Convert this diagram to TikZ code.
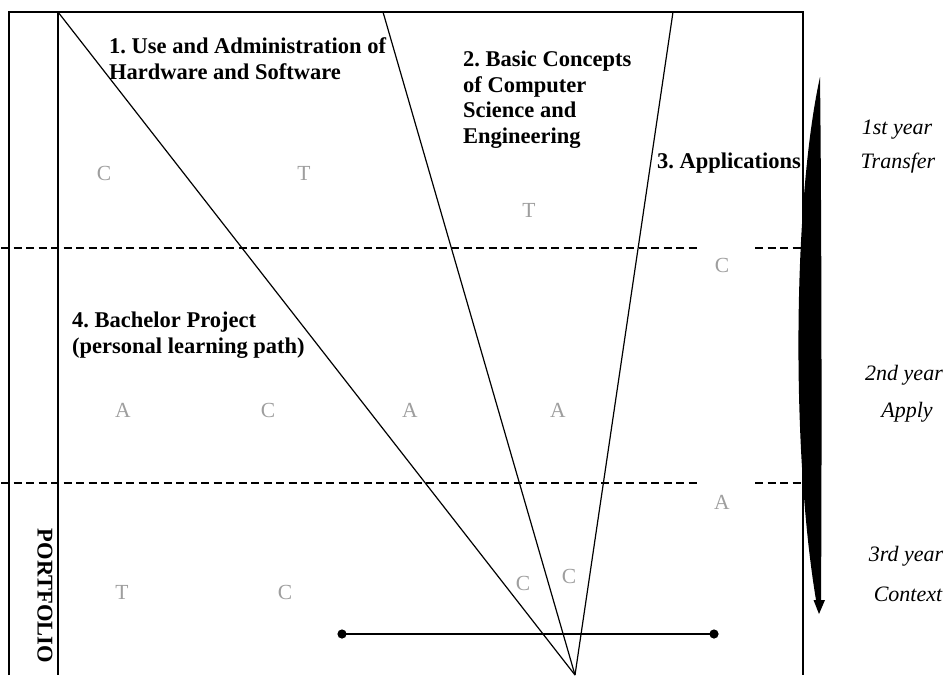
\documentclass[tikz,border=0pt]{standalone}
\usepackage{fontspec}
\setmainfont{Liberation Serif}
\frenchspacing
\begin{document}
\begin{tikzpicture}[x=1pt,y=-1pt,
  frame/.style={line width=1.4pt},
  ray/.style={line width=1.2pt},
  yearsep/.style={line width=1.3pt,dash pattern=on 8pt off 4.5pt},
  area/.style={font=\fontsize{22.5}{25.5}\selectfont\bfseries,align=left,anchor=base west,inner sep=0pt},
  letter/.style={font=\fontsize{21.5}{24}\selectfont,text=black!38,inner sep=0pt},
  year/.style={font=\fontsize{22}{24}\selectfont\itshape,inner sep=0pt}]
\useasboundingbox (0,0) rectangle (952,675);

% frame and portfolio column
\coordinate (bl) at (9,675);
\coordinate (tl) at (9,12);
\coordinate (tr) at (803,12);
\coordinate (br) at (803,675);
\coordinate (pt) at (58,12);
\coordinate (pb) at (58,675);
\draw[frame] (bl) -- (tl) -- (tr) -- (br);
\draw[frame] (pt) -- (pb);

% year separators
\coordinate (s1a) at (1,248);  \coordinate (s1b) at (700,248);
\coordinate (s1c) at (755,248); \coordinate (s1d) at (803,248);
\coordinate (s2a) at (1,483);  \coordinate (s2b) at (700,483);
\coordinate (s2c) at (755,483); \coordinate (s2d) at (803,483);
\draw[yearsep] (s1a) -- (s1b);
\draw[yearsep] (s1c) -- (s1d);
\draw[yearsep] (s2a) -- (s2b);
\draw[yearsep] (s2c) -- (s2d);

% rays meeting at the apex
\coordinate (apex) at (575,675);
\coordinate (r1) at (58,12);
\coordinate (r2) at (383,12);
\coordinate (r3) at (673,12);
\draw[ray] (r1) -- (apex);
\draw[ray] (r2) -- (apex);
\draw[ray] (r3) -- (apex);

% baseline bar with round ends
\coordinate (barl) at (342,634);
\coordinate (barr) at (714,634);
\draw[line width=2.6pt] (barl) -- (barr);
\fill (barl) circle (4.6);
\fill (barr) circle (4.6);

% area titles (anchored at the baseline of their last line)
\node[area] (a1) at (109,79) {1. Use and Administration of\\Hardware and Software};
\node[area] (a2) at (463,143) {2. Basic Concepts\\of Computer\\Science and\\Engineering};
\node[area] (a3) at (657,168) {3. Applications};
\node[area] (a4) at (72,353) {4. Bachelor Project\\(personal learning path)};
\node[font=\fontsize{22.5}{25.5}\selectfont\bfseries,rotate=-90,inner sep=0pt] (pf) at (45,596) {PORTFOLIO};

% competence letters
\node[letter] (l1) at (104,173) {C};
\node[letter] (l2) at (304,173) {T};
\node[letter] (l3) at (529,210) {T};
\node[letter] (l4) at (722,265) {C};
\node[letter] (l5) at (123,410) {A};
\node[letter] (l6) at (268,410) {C};
\node[letter] (l7) at (410,410) {A};
\node[letter] (l8) at (558,410) {A};
\node[letter] (l9) at (722,502) {A};
\node[letter] (l10) at (122,592) {T};
\node[letter] (l11) at (285,592) {C};
\node[letter] (l12) at (523,583) {C};
\node[letter] (l13) at (569,576) {C};

% progression arrow
\fill (820,77) .. controls (793,200) and (791,450) .. (816,600)
  -- (821,600) .. controls (822,450) and (821.5,200) .. (820,77) -- cycle;
\coordinate (tipl) at (813.5,600);
\coordinate (tipr) at (825,600);
\coordinate (tip) at (819,614);
\fill (tipl) -- (tipr) -- (tip) -- cycle;

% year labels
\node[year] (y1) at (897,130) {1st year};
\node[year] (y1b) at (898,163) {Transfer};
\node[year] (y2) at (904,375) {2nd year};
\node[year] (y2b) at (907,412) {Apply};
\node[year] (y3) at (906,556) {3rd year};
\node[year] (y3b) at (908,594) {Context};
\end{tikzpicture}
\end{document}
